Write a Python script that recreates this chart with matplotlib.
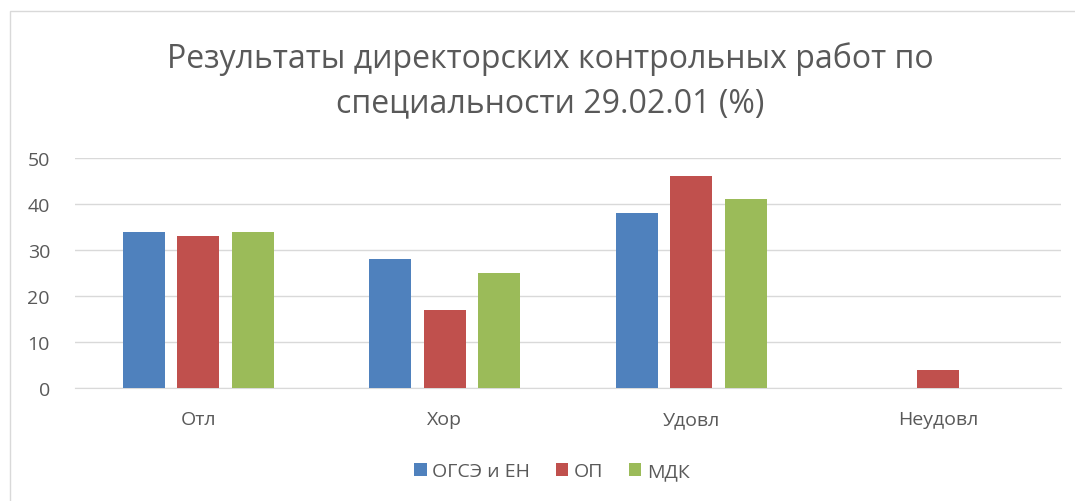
import matplotlib.pyplot as plt
from matplotlib.patches import Rectangle
import numpy as np

categories = ["Отл", "Хор", "Удовл", "Неудовл"]
series_names = ["ОГСЭ и ЕН", "ОП", "МДК"]
ogse_en = [34, 28, 38, 0]
op = [33, 17, 46, 4]
mdk = [34, 25, 41, 0]
colors = ["#4F81BD", "#C0504D", "#9BBB59"]
text_color = "#595959"

plt.rcParams['font.family'] = ['Open Sans', 'DejaVu Sans']

fig = plt.figure(figsize=(10.75, 5.02), dpi=100)
W, H = 1075, 502
ax = fig.add_axes([75 / W, 1 - 389 / H, (1061 - 75) / W, (389 - 159) / H])

# outer chart border
fig.patches.append(Rectangle((10 / W, -0.1), 1.2, 1 - 12 / H + 0.1, transform=fig.transFigure,
                             fill=False, edgecolor="#D9D9D9", linewidth=1))

x = np.arange(len(categories))
width = 0.17
step = 0.221
for i, (vals, name) in enumerate(zip([ogse_en, op, mdk], series_names)):
    ax.bar(x + (i - 1) * step, vals, width, color=colors[i], label=name, zorder=3)

ax.set_xlim(-0.5, len(categories) - 0.5)
ax.set_ylim(0, 50)
ax.set_yticks(range(0, 51, 10))
ax.set_xticks(x)
ax.set_xticklabels(categories)
ax.yaxis.grid(True, color="#D9D9D9", linewidth=1, zorder=0)
for s in ["top", "right", "left"]:
    ax.spines[s].set_visible(False)
ax.spines["bottom"].set_color("#D9D9D9")
ax.tick_params(axis="both", length=0, colors=text_color, labelsize=14)
ax.tick_params(axis="x", pad=16)
ax.tick_params(axis="y", pad=18)

fig.text(550 / W, 1 - 81 / H, "Результаты директорских контрольных работ по\nспециальности 29.02.01 (%)",
         ha="center", va="center", fontsize=23, color=text_color, linespacing=1.45)

ax.legend(loc="center", bbox_to_anchor=(552 / W, 1 - 472 / H), bbox_transform=fig.transFigure,
          ncol=3, frameon=False, fontsize=14, labelcolor=text_color,
          handlelength=0.65, handleheight=0.65, handletextpad=0.3, columnspacing=1.3)

fig.savefig("out.png", dpi=100)
